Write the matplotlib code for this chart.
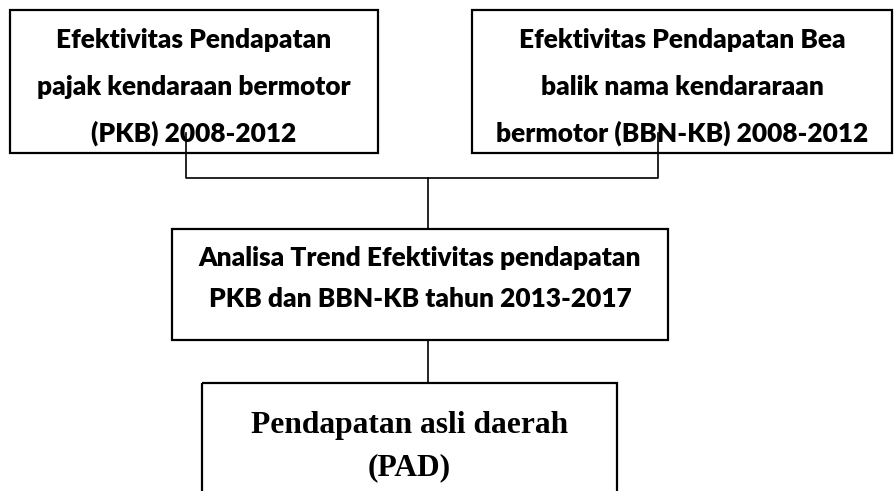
import matplotlib
matplotlib.use("Agg")
import matplotlib.pyplot as plt
from matplotlib.patches import Rectangle

# Box texts (one entry per line)
box1_lines = ["Efektivitas Pendapatan", "pajak kendaraan bermotor", "(PKB) 2008-2012"]
box2_lines = ["Efektivitas Pendapatan Bea", "balik nama kendararaan", "bermotor (BBN-KB) 2008-2012"]
box3_lines = ["Analisa Trend Efektivitas pendapatan", "PKB dan BBN-KB tahun 2013-2017"]
box4_lines = ["Pendapatan asli daerah", "(PAD)"]

# Layout in pixel units (x to the right, y downwards)
box_x0 = [10, 472, 172, 202]
box_x1 = [378, 892, 668, 617]
box_y0 = [10, 10, 229, 383]
box_y1 = [153, 153, 340, 520]
baselines = [[48, 95, 142], [48, 95, 142], [266, 307], [433, 475]]

sans = ["Lato", "DejaVu Sans"]
serif = ["Liberation Serif", "DejaVu Serif"]
sans_weight = 800

fig = plt.figure(figsize=(8.95, 4.91), dpi=100)
ax = fig.add_axes([0, 0, 1, 1])
ax.set_xlim(0, 895)
ax.set_ylim(491, 0)
ax.axis("off")

renderer = fig.canvas.get_renderer()


def fit_size(text, family, weight, target_px):
    # scale font size so the line is target_px wide
    t = ax.text(0, 0, text, fontsize=10, family=family, fontweight=weight)
    w = t.get_window_extent(renderer).width
    t.remove()
    return 10 * target_px / w


fs_sans = fit_size(box3_lines[0], sans, sans_weight, 444)
fs_serif = fit_size(box4_lines[0], serif, "bold", 318)

all_lines = [box1_lines, box2_lines, box3_lines, box4_lines]
for i, lines in enumerate(all_lines):
    ax.add_patch(Rectangle((box_x0[i], box_y0[i]), box_x1[i] - box_x0[i],
                           box_y1[i] - box_y0[i], fill=False,
                           edgecolor="black", linewidth=1.6, zorder=2))
    cx = (box_x0[i] + box_x1[i]) / 2
    fam = serif if i == 3 else sans
    fs = fs_serif if i == 3 else fs_sans
    wt = "bold" if i == 3 else sans_weight
    for line, by in zip(lines, baselines[i]):
        ax.text(cx, by, line, ha="center", va="baseline", family=fam,
                fontweight=wt, fontsize=fs, color="black", zorder=1)

# connectors
lw = 1.2
ax.plot([186, 186, 658, 658], [133, 178, 178, 133], color="black", lw=lw, zorder=3)
ax.plot([428, 428], [178, 229], color="black", lw=lw, zorder=3)
ax.plot([428, 428], [340, 383], color="black", lw=lw, zorder=3)

fig.savefig("out.png", dpi=100)
